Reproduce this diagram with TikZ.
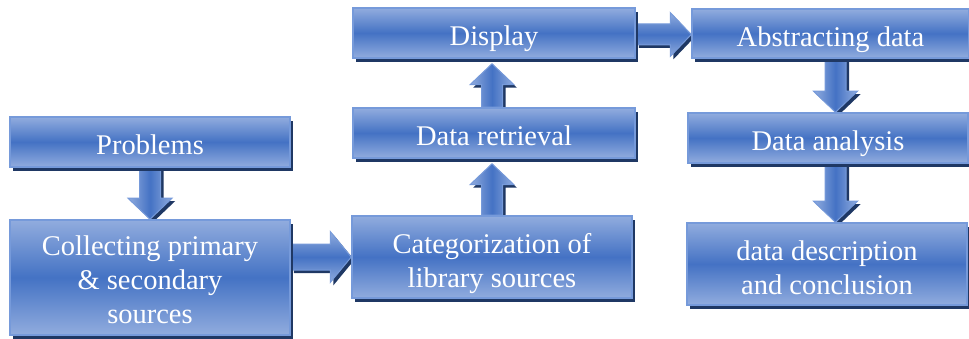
\documentclass[tikz,border=0pt]{standalone}
\usepackage{fontspec}
\setmainfont{Liberation Serif}
\usepackage{tikz}
\usetikzlibrary{calc,shadows}

\definecolor{boxmid}{RGB}{68,114,196}
\definecolor{boxedge}{RGB}{145,172,222}
\definecolor{boxline}{RGB}{118,154,218}
\definecolor{boxshadow}{RGB}{31,56,100}

\pgfdeclarelayer{background}
\pgfsetlayers{background,main}

\tikzset{
	stepbox/.style={draw=boxline,line width=1.5pt,top color=boxedge,bottom color=boxedge,middle color=boxmid,
		text=white,font=\fontsize{28.5}{34}\selectfont,align=center,inner sep=0pt,
		text height=#1,text depth=0pt,
		drop shadow={shadow xshift=3pt,shadow yshift=-4pt,fill=boxshadow,opacity=1}},
	stepbox/.default=26pt,
	vshade/.style={left color=boxedge,right color=boxedge,middle color=boxmid},
	hshade/.style={top color=boxedge,bottom color=boxedge,middle color=boxmid},
	arrowbody/.style={draw=boxline,line width=1pt,line join=miter,
		drop shadow={shadow xshift=3pt,shadow yshift=-3pt,fill=boxshadow,opacity=1}}
}

\newcommand{\shafthalf}{10.5pt}
\newcommand{\headhalf}{22pt}
\newcommand{\headlen}{21pt}
\newcommand{\flowarrow}[3][]{%
	\coordinate (fa-base) at ($(#3)!\headlen!(#2)$);
	\path[arrowbody,#1] ($(#2)!\shafthalf!90:(#3)$) -- ($(fa-base)!\shafthalf!-90:(#2)$)
		-- ($(fa-base)!\headhalf!-90:(#2)$) -- (#3) -- ($(fa-base)!\headhalf!90:(#2)$)
		-- ($(fa-base)!\shafthalf!90:(#2)$) -- ($(#2)!\shafthalf!-90:(#3)$) -- cycle;}

\begin{document}
\begin{tikzpicture}[x=1pt,y=-1pt]
		\useasboundingbox (0,0) rectangle (969,339);
		
		\node[stepbox,minimum width=280pt,minimum height=50pt] (prob) at (150,142) {Problems};
		\node[stepbox=92pt,minimum width=280pt,minimum height=115pt] (coll) at (150,277.5) {Collecting primary\\ \& secondary\\ sources};
		\node[stepbox=60pt,minimum width=280pt,minimum height=82pt] (cat) at (492,257) {Categorization of\\ library sources};
		\node[stepbox,minimum width=282pt,minimum height=50pt] (retr) at (494,133) {Data retrieval};
		\node[stepbox,minimum width=282pt,minimum height=50pt] (disp) at (494,33) {Display};
		\node[stepbox,minimum width=277pt,minimum height=49pt] (abs) at (830.5,33.5) {Abstracting data};
		\node[stepbox,minimum width=280pt,minimum height=50pt] (ana) at (828,138) {Data analysis};
		\node[stepbox=60pt,minimum width=280pt,minimum height=82pt] (desc) at (827,264) {data description\\ and conclusion};
		
		\coordinate (coll-out) at (coll.east |- cat.west);
		\coordinate (disp-out) at ($(disp.east)+(0,1.5)$);
		\coordinate (abs-in) at (abs.west |- disp-out);
		\coordinate (retr-in) at ($(cat.north |- retr.south)+(0,5)$);
		\coordinate (retr-out) at (cat.north |- retr.north);
		\coordinate (disp-in) at ($(cat.north |- disp.south)+(0,5)$);
		\coordinate (abs-out) at ($(abs.south)+(5,0)$);
		\coordinate (ana-in) at (abs-out |- ana.north);
		\coordinate (ana-out) at (abs-out |- ana.south);
		\coordinate (desc-in) at (abs-out |- desc.north);
		
		\begin{pgfonlayer}{background}
			\flowarrow[vshade]{prob.south}{coll.north}
			{\renewcommand{\shafthalf}{13pt}\renewcommand{\headhalf}{25.5pt}\flowarrow[hshade]{coll-out}{cat.west}}
			\flowarrow[vshade]{cat.north}{retr-in}
			\flowarrow[vshade]{retr-out}{disp-in}
			\flowarrow[hshade]{disp-out}{abs-in}
			\flowarrow[vshade]{abs-out}{ana-in}
			\flowarrow[vshade]{ana-out}{desc-in}
		\end{pgfonlayer}
\end{tikzpicture}
\end{document}
